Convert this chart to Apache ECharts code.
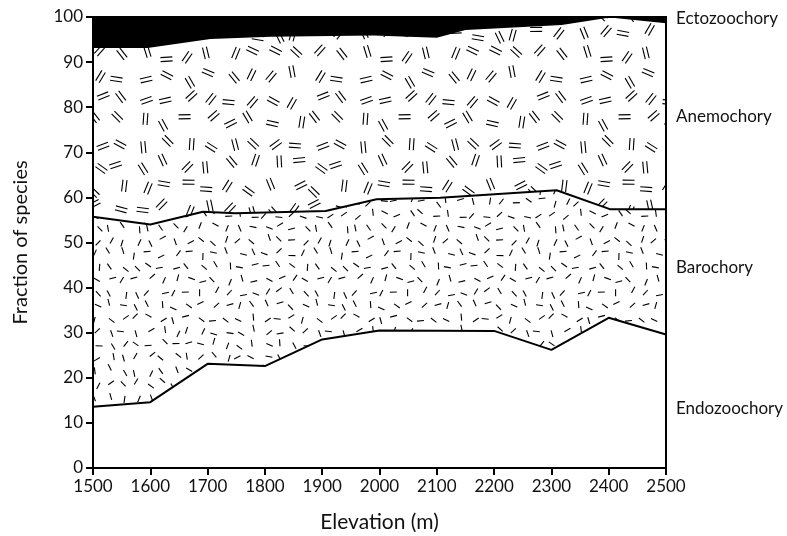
<!DOCTYPE html>
<html>
<head>
<meta charset="utf-8">
<script src="https://cdn.jsdelivr.net/npm/echarts@6/dist/echarts.min.js"></script>
<style>
  html, body { margin: 0; padding: 0; background: #fff; }
  #chart { width: 787px; height: 536px; }
</style>
</head>
<body>
<div id="chart"></div>
<script>
// boundary lines (elevation m, cumulative fraction)
var ectoX = [1500, 2500]
var ectoY = [100, 100]
var anemoX = [1500, 1595, 1705, 1810, 1990, 2100, 2150, 2318, 2402, 2500]
var anemoY = [93.1, 93.1, 95.1, 95.6, 95.9, 95.4, 97.1, 98.2, 99.9, 98.6]
var baroX = [1500, 1600, 1692, 1748, 1906, 1995, 2106, 2309, 2402, 2500]
var baroY = [55.7, 54.0, 56.8, 56.5, 57.0, 59.6, 59.9, 61.6, 57.4, 57.4]
var endoX = [1500, 1600, 1700, 1800, 1900, 2000, 2200, 2300, 2400, 2500]
var endoY = [13.6, 14.6, 23.1, 22.6, 28.5, 30.5, 30.4, 26.2, 33.3, 29.6]
var bandNames = ['Ectozoochory', 'Anemochory', 'Barochory', 'Endozoochory']
var bandLabelY = [20, 118, 269, 410]

function pairs(xs, ys) {
  var out = []
  for (var i = 0; i < xs.length; i++) out.push([xs[i], ys[i]])
  return out
}

// seeded generator, only used for the hatch texture
var seed = 12345
function rnd() {
  seed = (seed * 16807) % 2147483647
  return (seed - 1) / 2147483646
}

function makeTexture(size, step, len, doubled) {
  var c = document.createElement('canvas')
  c.width = size
  c.height = size
  var ctx = c.getContext('2d')
  ctx.fillStyle = '#fff'
  ctx.fillRect(0, 0, size, size)
  ctx.strokeStyle = '#000'
  ctx.lineWidth = 1.1
  for (var gy = 0; gy < size; gy += step) {
    for (var gx = 0; gx < size; gx += step) {
      var cx = gx + step / 2 + (rnd() - 0.5) * step * 0.5
      var cy = gy + step / 2 + (rnd() - 0.5) * step * 0.5
      var a = rnd() * Math.PI
      var dx = Math.cos(a) * len / 2
      var dy = Math.sin(a) * len / 2
      var offs = doubled ? [-2, 2] : [0]
      offs.forEach(function (o) {
        var ox = -Math.sin(a) * o
        var oy = Math.cos(a) * o
        ctx.beginPath()
        ctx.moveTo(cx - dx + ox, cy - dy + oy)
        ctx.lineTo(cx + dx + ox, cy + dy + oy)
        ctx.stroke()
      })
    }
  }
  return c
}

var anemoTex = makeTexture(220, 22, 12, true)
var baroTex = makeTexture(208, 13, 7, false)

var chart = echarts.init(document.getElementById('chart'))
var font = 'Lato, "Open Sans", sans-serif'

function bandSeries(name, data, fill, lw) {
  return {
    name: name,
    type: 'line',
    data: data,
    symbol: 'none',
    silent: true,
    lineStyle: { color: '#000', width: lw },
    areaStyle: { color: fill, opacity: 1 }
  }
}

var option = {
  animation: false,
  backgroundColor: '#fff',
  grid: {
    left: 93, right: 121, top: 17, bottom: 68,
    outerBoundsMode: 'none',
    containLabel: false,
    show: true, z: 10,
    borderColor: '#000', borderWidth: 2,
    backgroundColor: 'transparent'
  },
  xAxis: {
    type: 'value',
    min: 1500, max: 2500, interval: 100,
    z: 10,
    name: 'Elevation (m)',
    nameLocation: 'middle',
    nameGap: 44,
    nameTextStyle: { fontFamily: font, fontSize: 21, color: '#111' },
    axisLine: { lineStyle: { color: '#000', width: 2 } },
    axisTick: { length: 7, lineStyle: { color: '#000', width: 2 } },
    axisLabel: {
      fontFamily: font, fontSize: 17, color: '#111', margin: 10,
      formatter: function (v) { return String(v) }
    },
    splitLine: { show: false }
  },
  yAxis: {
    type: 'value',
    min: 0, max: 100, interval: 10,
    z: 10,
    name: 'Fraction of species',
    nameLocation: 'middle',
    nameGap: 62,
    nameTextStyle: { fontFamily: font, fontSize: 20, color: '#111' },
    axisLine: { lineStyle: { color: '#000', width: 2 } },
    axisTick: { length: 7, lineStyle: { color: '#000', width: 2 } },
    axisLabel: { fontFamily: font, fontSize: 17, color: '#111', margin: 10 },
    splitLine: { show: false }
  },
  graphic: bandNames.map(function (n, i) {
    return {
      type: 'text', left: 676, top: bandLabelY[i] - 10,
      style: { text: n, font: '17px ' + font, fill: '#111' }
    }
  }),
  series: [
    bandSeries('Ectozoochory', pairs(ectoX, ectoY), '#000', 0),
    bandSeries('Anemochory', pairs(anemoX, anemoY), { image: anemoTex, repeat: 'repeat' }, 0),
    bandSeries('Barochory', pairs(baroX, baroY), { image: baroTex, repeat: 'repeat' }, 2),
    bandSeries('Endozoochory', pairs(endoX, endoY), '#fff', 2)
  ]
}
chart.setOption(option)
</script>
</body>
</html>
